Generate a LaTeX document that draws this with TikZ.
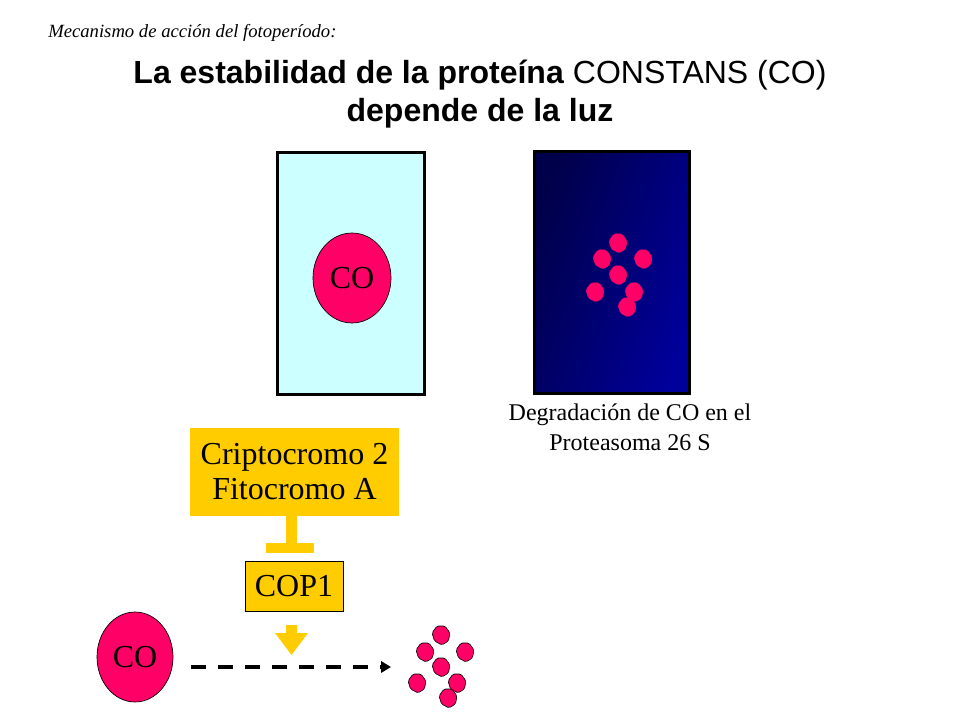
\documentclass[tikz,border=0pt]{standalone}
\usepackage{fontspec}
\setmainfont{Liberation Serif}
\newfontfamily\arialf{Liberation Sans}
\usetikzlibrary{arrows.meta,shapes.geometric}
\definecolor{copink}{HTML}{FF0066}
\definecolor{coyellow}{HTML}{FFCC00}
\definecolor{lightcyan}{HTML}{CCFFFF}
\definecolor{navyd}{HTML}{00004A}
\definecolor{navyl}{HTML}{00009A}
\tikzset{
  panel/.style={rectangle, draw=black, line width=2.25pt, inner sep=0pt},
  coell/.style={ellipse, draw=black, line width=0.5pt, fill=copink, inner sep=0pt,
    font=\fontsize{24}{28}\selectfont},
  ybox/.style={rectangle, fill=coyellow, inner sep=0pt, font=\fontsize{24}{26.25}\selectfont, align=center},
  blob/.pic={\filldraw[copink, rounded corners=1.2pt] (-9,-2)--(-4,-9)--(4,-9)--(9,-2)--(7.5,6)--(1,10)--(-6.5,6)--cycle;},
  blobo/.pic={\filldraw[fill=copink, draw=black, line width=0.45pt, rounded corners=1.2pt] (-9,-2)--(-4,-9)--(4,-9)--(9,-2)--(7.5,6)--(1,10)--(-6.5,6)--cycle;},
  dasharrow/.style={line width=3pt, dash pattern=on 11.25pt off 9pt, -{Triangle[length=7.5pt,width=8.5pt]}}
}
\begin{document}
\begin{tikzpicture}[x=0.75pt,y=-0.75pt]
\useasboundingbox (0,0) rectangle (960,720);
% header
\node[anchor=west, inner sep=0pt, font=\fontsize{14}{16}\selectfont\itshape] (sub) at (48,33) {Mecanismo de acción del fotoperíodo:};
\node[align=center, inner sep=0pt, font=\arialf\fontsize{24}{28.5}\selectfont] (title) at (480,94)
  {\textbf{La estabilidad de la proteína} CONSTANS (CO)\\ \textbf{depende de la luz}};
% panels
\node[panel, fill=lightcyan, minimum width=110.25pt, minimum height=180.75pt] (light) at (350.5,273.5) {};
\node[coell, minimum width=58.5pt, minimum height=67.5pt] (co1) at (352,278) {CO};
\node[panel, left color=navyd, right color=navyl, shading angle=70, minimum width=116.25pt, minimum height=180.75pt] (dark) at (611.5,272.5) {};
\foreach \p in {(618,243),(602,259),(643,259),(618,275),(595,292),(634,292),(627,307)}
  \pic at \p {blob};
\node[align=center, inner sep=0pt, font=\fontsize{18}{22.5}\selectfont] (cap) at (630,427)
  {Degradación de CO en el\\Proteasoma 26 S};
% pathway
\node[ybox, minimum width=156.75pt, minimum height=66pt] (crip) at (294.5,472) {Criptocromo 2\\Fitocromo A};
\fill[coyellow] (286,516) rectangle (296.5,545);
\fill[coyellow] (266,543) rectangle (314,553);
\node[ybox, draw=black, line width=0.6pt, minimum width=73.5pt, minimum height=37.5pt] (cop) at (294,586) {COP1};
\fill[coyellow] (286,625) -- (297,625) -- (297,633) -- (308,633) -- (291.5,655) -- (275,633) -- (286,633) -- cycle;
\node[coell, minimum width=57pt, minimum height=67.5pt] (co2) at (135,657) {CO};
\coordinate (dstart) at (191,667);
\coordinate (dend) at (391,667);
\draw[dasharrow] (dstart) -- (dend);
\foreach \p in {(441,635),(425,652),(465,652),(441,667),(417,683),(457,683),(448,698)}
  \pic at \p {blobo};
\end{tikzpicture}
\end{document}
